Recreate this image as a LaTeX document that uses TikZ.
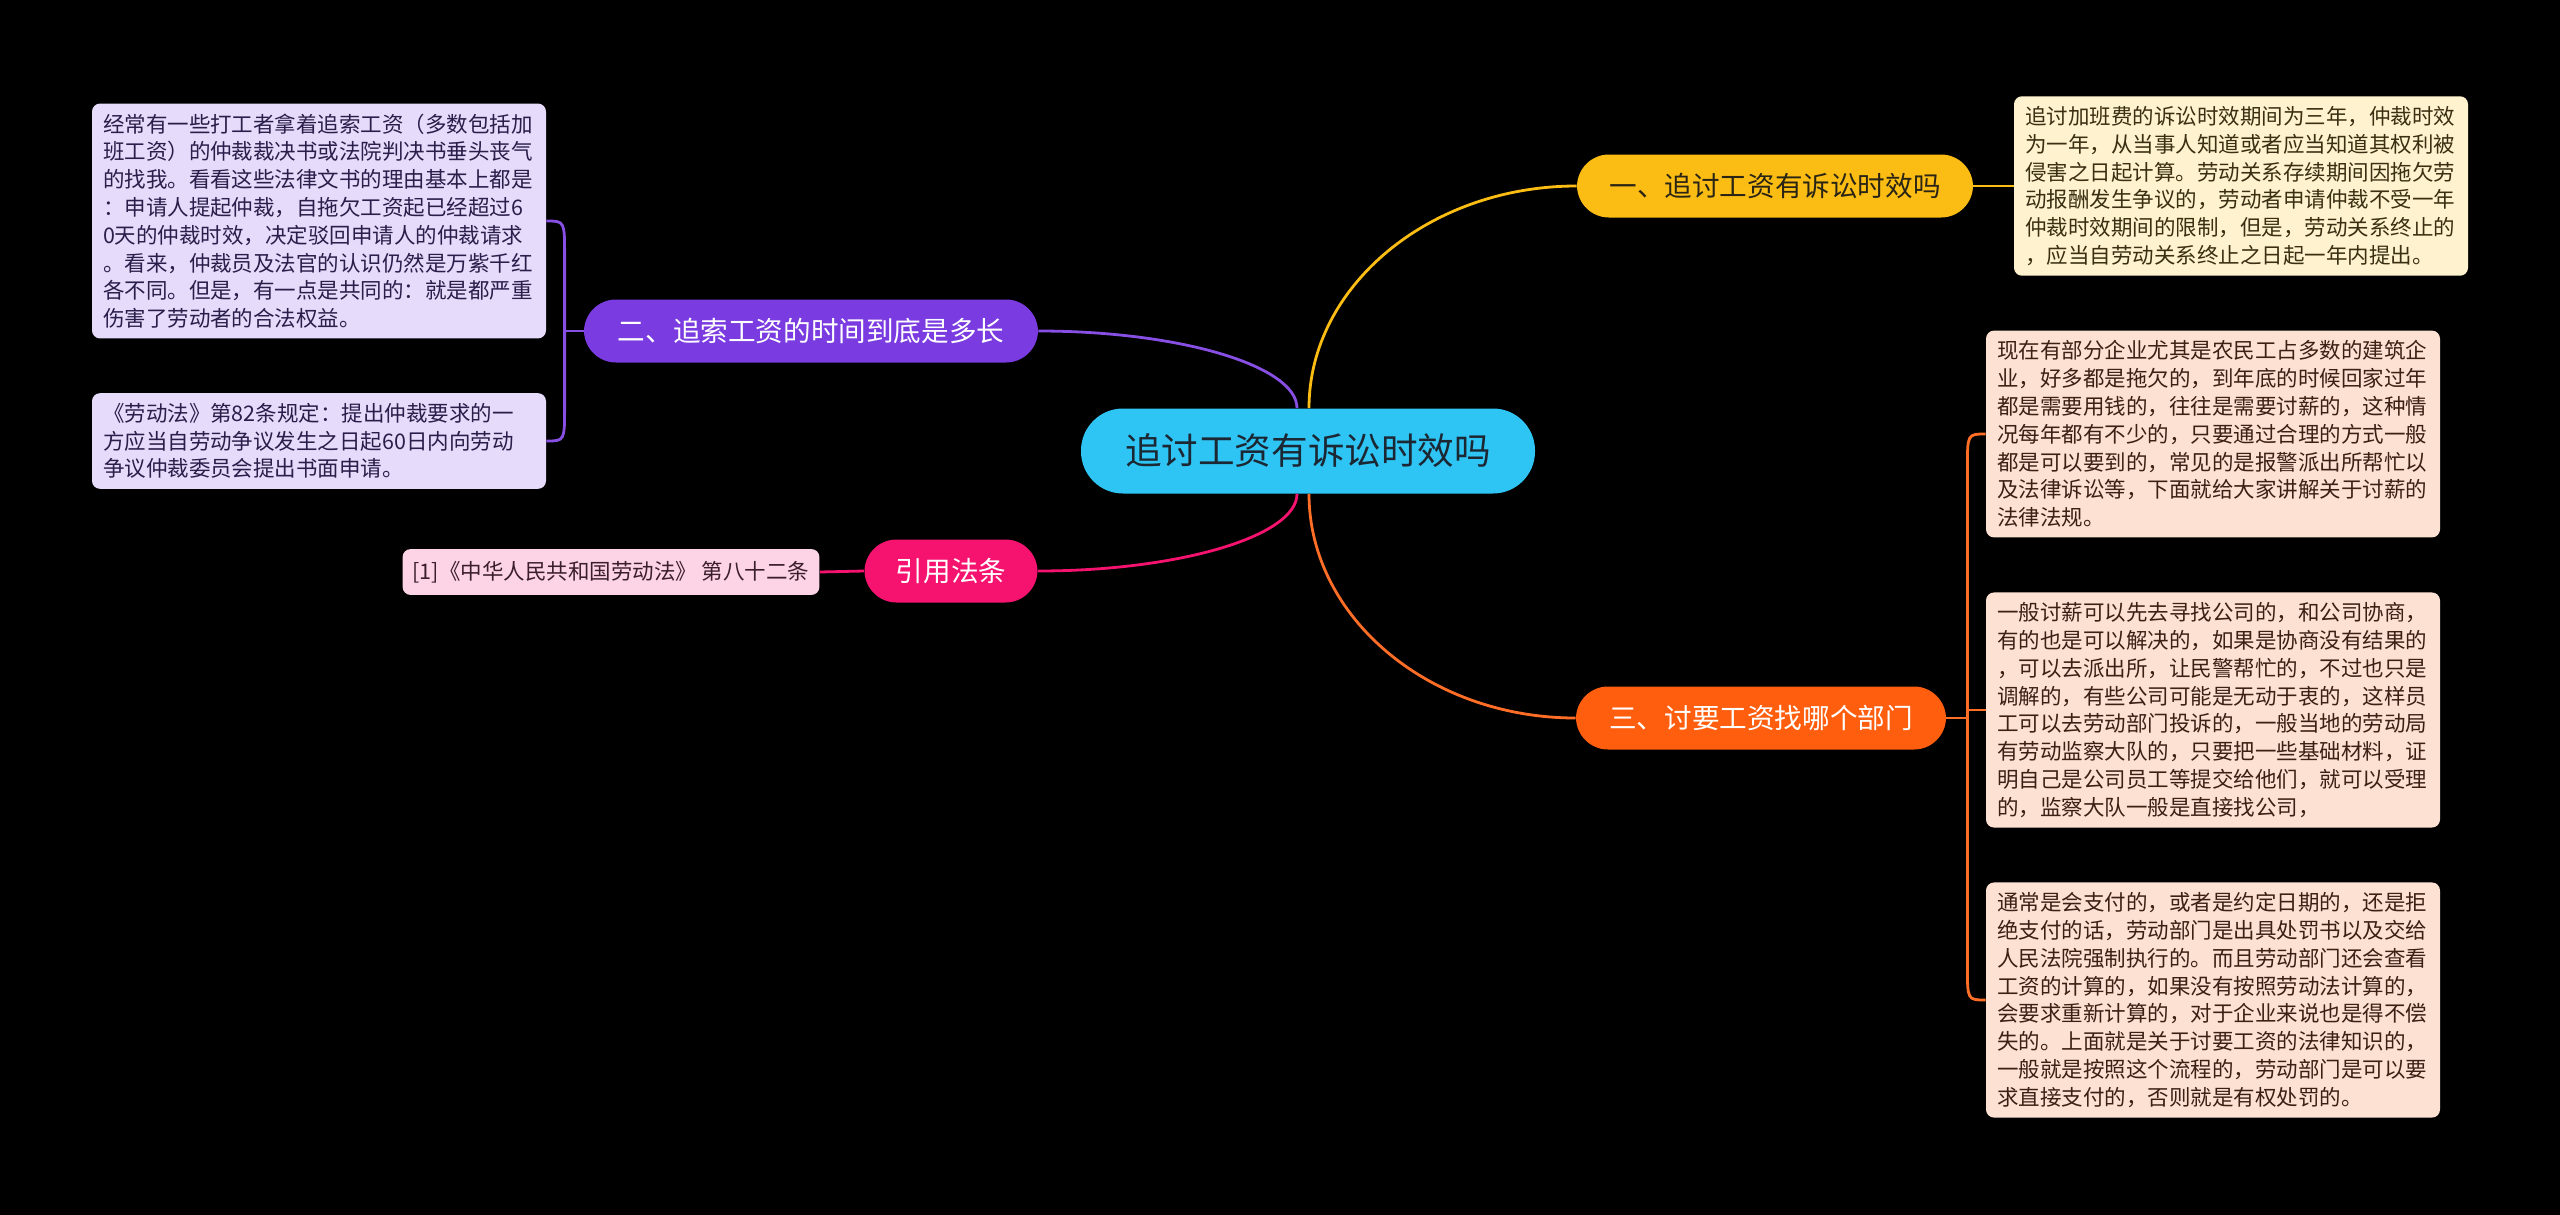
\documentclass[tikz,border=0pt]{standalone}
\usepackage{fontspec}
\setmainfont{Noto Sans CJK SC}
\usetikzlibrary{calc}
\definecolor{rootblue}{HTML}{2EC5F4}
\definecolor{rootink}{HTML}{1B2733}
\definecolor{sunny}{HTML}{FBBD14}
\definecolor{sunnyink}{HTML}{2A2415}
\definecolor{violet}{HTML}{7A3BE0}
\definecolor{rose}{HTML}{F5136F}
\definecolor{tangerine}{HTML}{FF5E0E}
\definecolor{lavleaf}{HTML}{E6DBFA}
\definecolor{lavink}{HTML}{2A1E4A}
\definecolor{roseleaf}{HTML}{FDD3E6}
\definecolor{roseink}{HTML}{3B1E2C}
\definecolor{creamleaf}{HTML}{FFF3CF}
\definecolor{creamink}{HTML}{3A2F12}
\definecolor{peachleaf}{HTML}{FDE2D4}
\definecolor{peachink}{HTML}{3C2014}

\begin{document}
\begin{tikzpicture}[x=0.5pt, y=-0.5pt,
  root/.style={fill=rootblue, text=rootink, rounded corners=21pt, minimum width=227pt, minimum height=42.5pt, font=\fontsize{18.3}{22}\selectfont},
  topic/.style={rounded corners=16pt, minimum height=31.5pt, font=\fontsize{13.8}{16}\selectfont},
  leaf/.style={rounded corners=4pt, inner xsep=5.5pt, inner ysep=5pt, text width=216pt, align=left, font=\fontsize{10.75}{13.9}\selectfont},
  link/.style={line width=1.4pt}]
  \fill[black] (0,0) rectangle (2560,1215);

  \node[root] (root) at (1308,451) {追讨工资有诉讼时效吗};

  \node[topic, fill=sunny, text=sunnyink, minimum width=198pt] (n1) at (1775,186) {一、追讨工资有诉讼时效吗};
  \node[topic, fill=violet, text=white, minimum width=227pt] (n2) at (811,331) {二、追索工资的时间到底是多长};
  \node[topic, fill=rose, text=white, minimum width=86.5pt] (n4) at (951,571) {引用法条};
  \node[topic, fill=tangerine, text=white, minimum width=185pt] (n3) at (1761,718) {三、讨要工资找哪个部门};

  \node[leaf, fill=creamleaf, text=creamink] (l1) at (2241,186) {追讨加班费的诉讼时效期间为三年，仲裁时效\\为一年，从当事人知道或者应当知道其权利被\\侵害之日起计算。劳动关系存续期间因拖欠劳\\动报酬发生争议的，劳动者申请仲裁不受一年\\仲裁时效期间的限制，但是，劳动关系终止的\\，应当自劳动关系终止之日起一年内提出。};

  \node[leaf, fill=lavleaf, text=lavink] (l2a) at (319,221) {经常有一些打工者拿着追索工资（多数包括加\\班工资）的仲裁裁决书或法院判决书垂头丧气\\的找我。看看这些法律文书的理由基本上都是\\：申请人提起仲裁，自拖欠工资起已经超过6\\0天的仲裁时效，决定驳回申请人的仲裁请求\\。看来，仲裁员及法官的认识仍然是万紫千红\\各不同。但是，有一点是共同的：就是都严重\\伤害了劳动者的合法权益。};
  \node[leaf, fill=lavleaf, text=lavink] (l2b) at (319,441) {《劳动法》第82条规定：提出仲裁要求的一\\方应当自劳动争议发生之日起60日内向劳动\\争议仲裁委员会提出书面申请。};

  \node[leaf, fill=roseleaf, text=roseink, text width=, inner xsep=5pt, inner ysep=6pt] (l4) at (611,572) {[1]《中华人民共和国劳动法》 第八十二条};

  \node[leaf, fill=peachleaf, text=peachink] (l3a) at (2213,434) {现在有部分企业尤其是农民工占多数的建筑企\\业，好多都是拖欠的，到年底的时候回家过年\\都是需要用钱的，往往是需要讨薪的，这种情\\况每年都有不少的，只要通过合理的方式一般\\都是可以要到的，常见的是报警派出所帮忙以\\及法律诉讼等，下面就给大家讲解关于讨薪的\\法律法规。};
  \node[leaf, fill=peachleaf, text=peachink] (l3b) at (2213,710) {一般讨薪可以先去寻找公司的，和公司协商，\\有的也是可以解决的，如果是协商没有结果的\\，可以去派出所，让民警帮忙的，不过也只是\\调解的，有些公司可能是无动于衷的，这样员\\工可以去劳动部门投诉的，一般当地的劳动局\\有劳动监察大队的，只要把一些基础材料，证\\明自己是公司员工等提交给他们，就可以受理\\的，监察大队一般是直接找公司，};
  \node[leaf, fill=peachleaf, text=peachink] (l3c) at (2213,1000) {通常是会支付的，或者是约定日期的，还是拒\\绝支付的话，劳动部门是出具处罚书以及交给\\人民法院强制执行的。而且劳动部门还会查看\\工资的计算的，如果没有按照劳动法计算的，\\会要求重新计算的，对于企业来说也是得不偿\\失的。上面就是关于讨要工资的法律知识的，\\一般就是按照这个流程的，劳动部门是可以要\\求直接支付的，否则就是有权处罚的。};

  \coordinate (j2) at ($(n2.west)+(-19,0)$);
  \coordinate (j3) at ($(n3.east)+(21,0)$);

  \draw[link, sunny] ($(root.north)+(1,0)$) .. controls ($(root.north)+(1,-122)$) and ($(n1.west)+(-147,0)$) .. (n1.west);
  \draw[link, violet!90!white] ($(root.north)+(-11,0)$) .. controls ($(root.north)+(-11,-42)$) and ($(n2.east)+(142,0)$) .. (n2.east);
  \draw[link, rose] ($(root.south)+(-11,0)$) .. controls ($(root.south)+(-11,42)$) and ($(n4.east)+(142,0)$) .. (n4.east);
  \draw[link, tangerine!90!white] ($(root.south)+(1,0)$) .. controls ($(root.south)+(1,123)$) and ($(n3.west)+(-147,0)$) .. (n3.west);

  \draw[link, sunny] (n1.east) -- (l1.west);
  \draw[link, rose] (n4.west) -- (l4.east);

  \draw[link, violet!90!white] (n2.west) -- (j2);
  \draw[link, violet!90!white] (j2) -- ($(j2 |- l2a.east)+(0,34)$) .. controls (j2 |- l2a.east) .. (l2a.east);
  \draw[link, violet!90!white] (j2) -- ($(j2 |- l2b.east)+(0,-34)$) .. controls (j2 |- l2b.east) .. (l2b.east);

  \draw[link, tangerine!90!white] (n3.east) -- (j3);
  \draw[link, tangerine!90!white] (j3) -- ($(j3 |- l3a.west)+(0,34)$) .. controls (j3 |- l3a.west) .. (l3a.west);
  \draw[link, tangerine!90!white] (j3) -- ($(j3 |- l3c.west)+(0,-34)$) .. controls (j3 |- l3c.west) .. (l3c.west);
  \draw[link, tangerine!90!white] (j3 |- l3b.west) -- (l3b.west);
\end{tikzpicture}
\end{document}
